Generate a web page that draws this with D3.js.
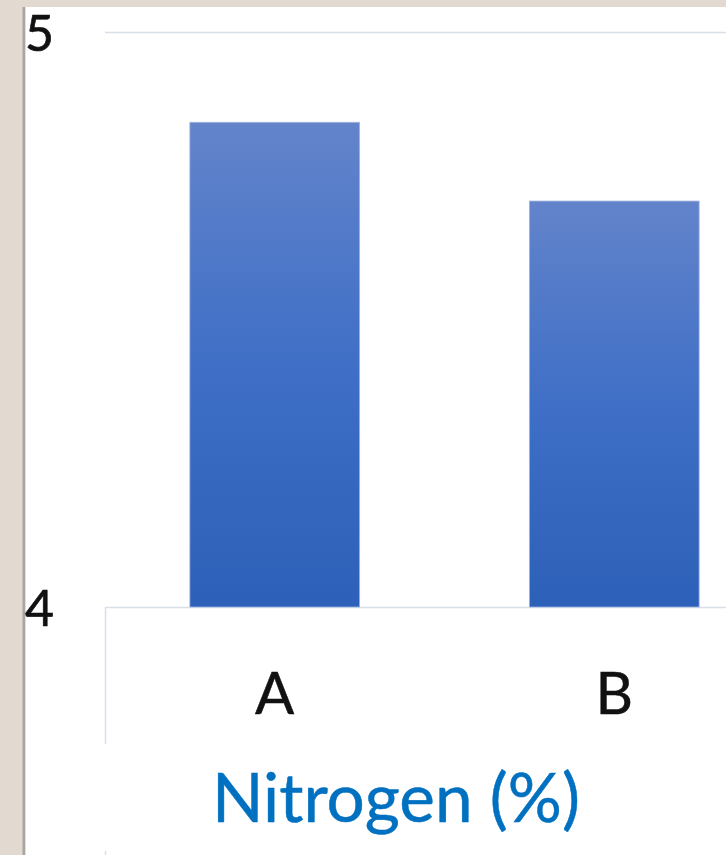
<!DOCTYPE html>
<html>
<head>
<meta charset="utf-8">
<script src="https://cdn.jsdelivr.net/npm/d3@7"></script>
<style>
  html, body { margin: 0; padding: 0; background: #e2d9d1; }
  svg { display: block; }
</style>
</head>
<body>
<svg id="chart" width="726" height="855"></svg>
<script>
// Nitrogen content by sample
const categories = ["A", "B"];
const nitrogenValues = [4.843, 4.706];
const yTickValues = [4, 5];
const titleText = "Nitrogen (%)";

const svg = d3.select("#chart");
const W = 726, H = 855;
const FONT = "Lato, 'Open Sans', sans-serif";

// slide-like backdrop with a white panel
svg.append("rect").attr("width", W).attr("height", H).attr("fill", "#e2d9d1");
svg.append("rect").attr("x", 22.5).attr("y", 7).attr("width", 3).attr("height", H - 7).attr("fill", "#a9a5a1");
svg.append("rect").attr("x", 25.5).attr("y", 7).attr("width", W - 25.5).attr("height", H - 7).attr("fill", "#ffffff");

// scales
const plotLeft = 105, plotRight = 784;
const y = d3.scaleLinear().domain([4, 5]).range([607, 32]);
const x = d3.scaleBand().domain(categories).range([plotLeft, plotRight])
  .paddingInner(0.5).paddingOuter(0.25);

// bar gradient
const defs = svg.append("defs");
const grad = defs.append("linearGradient").attr("id", "barGrad")
  .attr("x1", 0).attr("y1", 0).attr("x2", 0).attr("y2", 1);
grad.append("stop").attr("offset", "0%").attr("stop-color", "#6384cb");
grad.append("stop").attr("offset", "50%").attr("stop-color", "#3f6fc6");
grad.append("stop").attr("offset", "100%").attr("stop-color", "#2d60b8");

// gridlines
svg.append("g").selectAll("line").data(yTickValues).join("line")
  .attr("x1", plotLeft).attr("x2", W)
  .attr("y1", d => y(d) + 0.5).attr("y2", d => y(d) + 0.5)
  .attr("stroke", "#d8dfe9").attr("stroke-width", 1.5);

// category axis left boundary
svg.append("line").attr("x1", plotLeft + 0.5).attr("x2", plotLeft + 0.5)
  .attr("y1", y(4)).attr("y2", 744)
  .attr("stroke", "#d8dfe9").attr("stroke-width", 1.5);
svg.append("line").attr("x1", plotLeft + 0.5).attr("x2", plotLeft + 0.5)
  .attr("y1", 851).attr("y2", H)
  .attr("stroke", "#d8dfe9").attr("stroke-width", 1.5);

// bars
svg.append("g").selectAll("rect").data(categories).join("rect")
  .attr("x", d => x(d))
  .attr("y", (d, i) => y(nitrogenValues[i]))
  .attr("width", x.bandwidth())
  .attr("height", (d, i) => y(4) - y(nitrogenValues[i]))
  .attr("fill", "url(#barGrad)")
  .attr("stroke", "#9fb4e0").attr("stroke-width", 0.8);

// y tick labels
svg.append("g").selectAll("text").data(yTickValues).join("text")
  .attr("x", 25)
  .attr("y", d => y(d) + 19)
  .attr("font-family", FONT).attr("font-size", 50)
  .attr("fill", "#111111").attr("stroke", "#111111").attr("stroke-width", 0.7)
  .text(d => d3.format("d")(d));

// category labels
svg.append("g").selectAll("text").data(categories).join("text")
  .attr("x", d => x(d) + x.bandwidth() / 2)
  .attr("y", 714)
  .attr("text-anchor", "middle")
  .attr("font-family", FONT).attr("font-size", 58)
  .attr("fill", "#111111").attr("stroke", "#111111").attr("stroke-width", 0.5)
  .text(d => d);

// chart title
svg.append("text")
  .attr("x", 396).attr("y", 822)
  .attr("text-anchor", "middle")
  .attr("font-family", FONT).attr("font-size", 68)
  .attr("fill", "#0070c0").attr("stroke", "#0070c0").attr("stroke-width", 0.5)
  .attr("textLength", 368).attr("lengthAdjust", "spacingAndGlyphs")
  .text(titleText);
</script>
</body>
</html>
